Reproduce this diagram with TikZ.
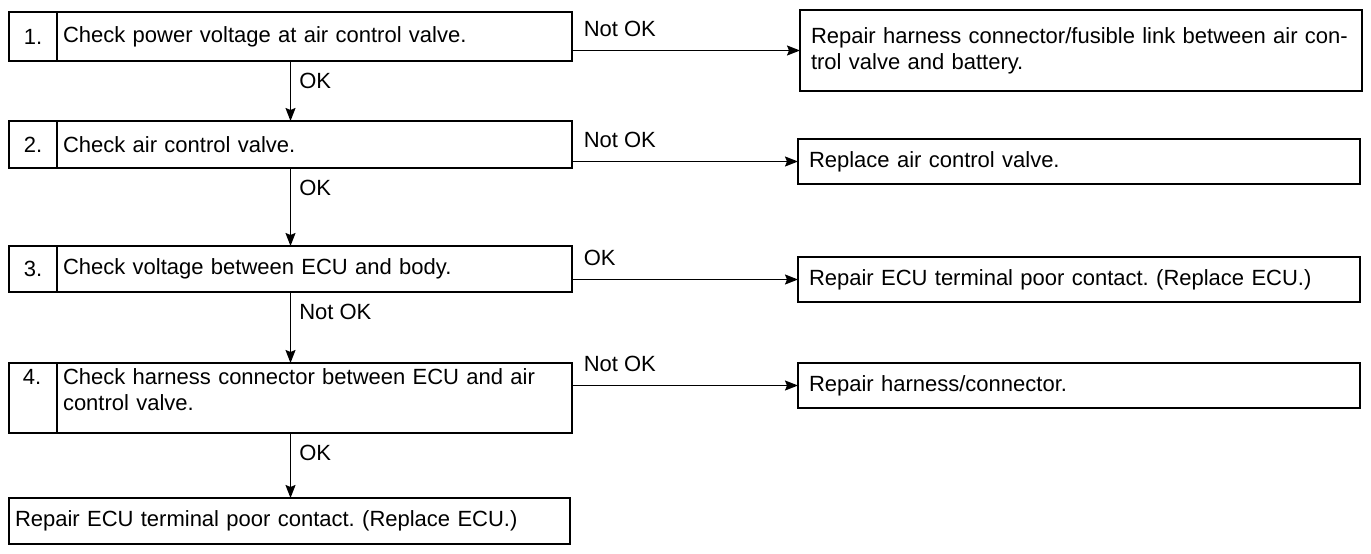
\documentclass[tikz,border=0pt]{standalone}
\usepackage{fontspec}
\setmainfont{Liberation Sans}
\usetikzlibrary{arrows.meta, positioning, calc}
\frenchspacing
\tikzset{
    flowchart/.style={>={Stealth[length=13pt, width=10pt, inset=2pt]}, line width=1.5pt, font=\fontsize{22}{26}\selectfont, x=1pt, y=-1pt},
    stepnum/.style={draw, anchor=north west, minimum width=48pt, inner sep=0pt, outer sep=0pt},
    stepbox/.style={draw, anchor=west, text width=503pt, inner xsep=6pt, inner ysep=0pt, outer sep=0pt, align=left},
    fixbox/.style={draw, anchor=north west, text width=540pt, inner xsep=11pt, inner ysep=0pt, outer sep=0pt, align=left},
    % labels on the connectors
    downlabel/.style={anchor=north west, pos=0, inner sep=2pt, xshift=6pt, yshift=-9pt},
    sidelabel/.style={anchor=south west, pos=0, inner sep=2pt, xshift=9pt, yshift=11pt},
}
\begin{document}
\begin{tikzpicture}[flowchart]
    \useasboundingbox (0,0) rectangle (1371,554);

    % checks, left column
    \node[stepnum, minimum height=49pt] (n1) at (9,12) {1.};
    \node[stepbox, minimum height=49pt, right=0pt of n1] (s1) {Check power voltage at air control valve.};
    \node[stepnum, minimum height=47pt, below=60pt of n1.south west, anchor=north west] (n2) {2.};
    \node[stepbox, minimum height=47pt, right=0pt of n2] (s2) {Check air control valve.};
    \node[stepnum, minimum height=46pt, below=78pt of n2.south west, anchor=north west] (n3) {3.};
    \node[stepbox, minimum height=46pt, right=0pt of n3] (s3) {Check voltage between ECU and body.};
    \node[stepnum, inner ysep=6pt, below=71pt of n3.south west, anchor=north west] (n4) {\parbox[c][58pt][t]{20pt}{4.}};
    \node[stepbox, inner ysep=6pt, right=0pt of n4] (s4) {\parbox[c][58pt][t]{503pt}{Check harness connector between ECU and air\\control valve.}};
    \node[stepbox, text width=549pt, minimum height=46pt, below=65pt of n4.south west, anchor=north west] (last) {Repair ECU terminal poor contact. (Replace ECU.)};

    % repairs, right column
    \node[fixbox, minimum height=81pt] (r1) at (800,10) {Repair harness connector/fusible link between air con-\\trol valve and battery.};
    \node[fixbox, minimum height=45pt] (r2) at (798,139) {Replace air control valve.};
    \node[fixbox, minimum height=45pt] (r3) at (798,257) {Repair ECU terminal poor contact. (Replace ECU.)};
    \node[fixbox, minimum height=45pt] (r4) at (798,363) {Repair harness/connector.};

    \draw[->] ($(n1.south west)!0.5!(s1.south east)$) -- node[downlabel] {OK} ($(n2.north west)!0.5!(s2.north east)$);
    \draw[->] ($(n2.south west)!0.5!(s2.south east)$) -- node[downlabel] {OK} ($(n3.north west)!0.5!(s3.north east)$);
    \draw[->] ($(n3.south west)!0.5!(s3.south east)$) -- node[downlabel] {Not OK} ($(n4.north west)!0.5!(s4.north east)$);
    \draw[->] ($(n4.south west)!0.5!(s4.south east)$) -- node[downlabel] {OK} (last.north -| {$(n4.south west)!0.5!(s4.south east)$});

    \draw[->] (s1.east |- r1.west) -- node[sidelabel] {Not OK} (r1.west);
    \draw[->] (s2.east |- r2.west) -- node[sidelabel] {Not OK} (r2.west);
    \draw[->] (s3.east |- r3.west) -- node[sidelabel] {OK} (r3.west);
    \draw[->] (s4.east |- r4.west) -- node[sidelabel] {Not OK} (r4.west);
\end{tikzpicture}
\end{document}
